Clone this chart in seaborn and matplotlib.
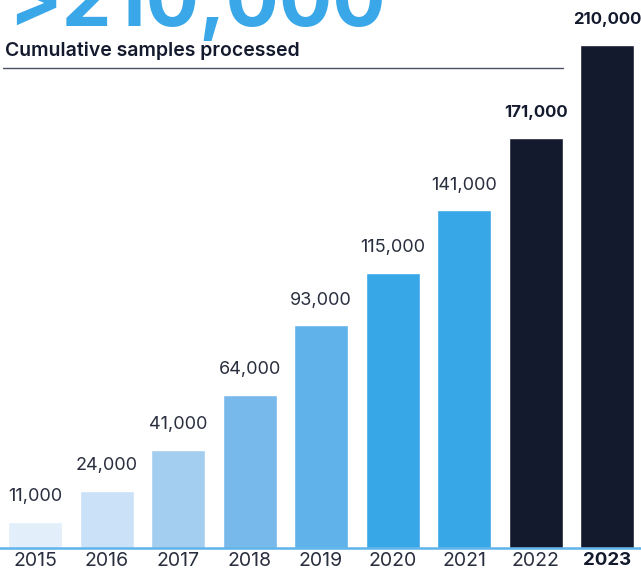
import matplotlib
matplotlib.use("Agg")
import matplotlib.pyplot as plt
import seaborn as sns
import pandas as pd

years = ["2015", "2016", "2017", "2018", "2019", "2020", "2021", "2022", "2023"]
samples = [11000, 24000, 41000, 64000, 93000, 115000, 141000, 171000, 210000]
bar_colors = ["#e2eef9", "#cbe1f7", "#a3cef0", "#78b9eb", "#5fb3ea",
              "#37a7e8", "#37a7e8", "#141a2e", "#141a2e"]
headline = ">210,000"
subtitle = "Cumulative samples processed"

sns.set_theme(style="white")
plt.rcParams["font.family"] = ["Inter", "DejaVu Sans"]

df = pd.DataFrame({"year": years, "samples": samples})

fig = plt.figure(figsize=(6.41, 5.71), dpi=100)
ax = fig.add_axes([0, 23 / 571, 1, 1 - 23 / 571])
sns.barplot(data=df, x="year", y="samples", hue="year", palette=bar_colors,
            width=0.755, legend=False, ax=ax, saturation=1)

ax.set_xlim(-0.49, 8.475)
ax.set_ylim(0, 228800)
for s in ["top", "right", "left"]:
    ax.spines[s].set_visible(False)
ax.spines["bottom"].set_color("#5eb3ea")
ax.spines["bottom"].set_linewidth(1.8)
ax.set_yticks([])
ax.set_xlabel("")
ax.set_ylabel("")
ax.tick_params(axis="x", length=0, pad=3, labelsize=14, labelcolor="#2a2f3f")
for i, t in enumerate(ax.get_xticklabels()):
    if i == len(years) - 1:
        t.set_fontweight("bold")
        t.set_fontsize(13.5)
        t.set_color("#141a2e")

for i, cont in enumerate(ax.containers):
    bold = i >= 7
    labels = ax.bar_label(cont, labels=[f"{samples[i]:,}"],
                          padding=13 if bold else 12,
                          fontsize=12 if bold else 13,
                          fontweight="bold" if bold else "normal",
                          color="#141a2e" if bold else "#2a2f3f")

fig.text(8 / 641, 1 - 26 / 571, headline, fontsize=57, fontweight="bold",
         color="#3aa8e8", va="baseline", ha="left")
fig.text(5 / 641, 1 - 56 / 571, subtitle, fontsize=14, fontweight="semibold",
         color="#141a2e", va="baseline", ha="left")
fig.add_artist(plt.Line2D([3 / 641, 563 / 641], [1 - 68 / 571, 1 - 68 / 571],
                          color="#4a4f63", linewidth=1.0))

fig.savefig("out.png", dpi=100)
